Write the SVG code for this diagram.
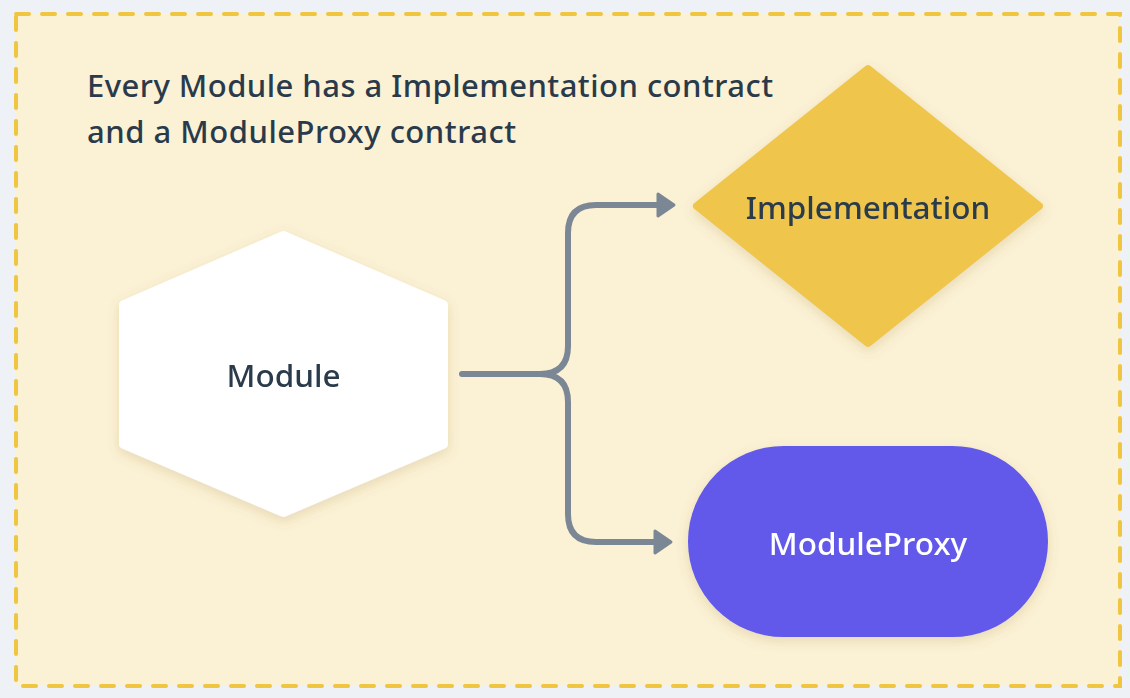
<svg xmlns="http://www.w3.org/2000/svg" width="1130" height="698" viewBox="0 0 1130 698">
  <style>
    .txt { font-family: "Noto Sans", "Open Sans", sans-serif; fill: #2a3a4b; font-weight: 500; }
    .node-label { font-size: 31.5px; text-anchor: middle; }
    .title { font-size: 31px; }
    .conn { fill: none; stroke: #7b8794; stroke-width: 6; stroke-linecap: round; stroke-linejoin: round; }
  </style>
  <defs>
    <filter id="shadow" x="-20%" y="-20%" width="140%" height="150%">
      <feDropShadow dx="0" dy="4" stdDeviation="6" flood-color="#8a6d1c" flood-opacity="0.18"/>
    </filter>
    <marker id="arrow" markerUnits="userSpaceOnUse" markerWidth="24" markerHeight="30" refX="2" refY="13" orient="auto" viewBox="0 0 24 26">
      <path d="M2,2 L18,13 L2,24 Z" fill="#7b8794" stroke="#7b8794" stroke-width="3" stroke-linejoin="round"/>
    </marker>
  </defs>
  <rect x="0" y="0" width="1130" height="698" fill="#eef2f6"/>
  <g id="frame">
    <rect x="16" y="14" width="1104" height="672" fill="#fbf1d5" stroke="#f0c540" stroke-width="4" stroke-dasharray="13 13" stroke-linecap="round"/>
  </g>
  <g id="title">
    <text class="txt title" x="87" y="97" textLength="686" lengthAdjust="spacing">Every Module has a Implementation contract</text>
    <text class="txt title" x="87" y="143" textLength="429" lengthAdjust="spacing">and a ModuleProxy contract</text>
  </g>
  <g id="connectors">
    <path class="conn" d="M462,374 H540 Q568,374 568,346 V233 Q568,205 596,205 H658" marker-end="url(#arrow)"/>
    <path class="conn" d="M540,374 Q568,374 568,402 V514 Q568,542 596,542 H655" marker-end="url(#arrow)"/>
  </g>
  <g id="node-module" filter="url(#shadow)">
    <polygon points="283.5,236 443,305 443,444 283.5,512 124,444 124,305" fill="#ffffff" stroke="#ffffff" stroke-width="10" stroke-linejoin="round"/>
    <text class="txt node-label" x="283.5" y="387">Module</text>
  </g>
  <g id="node-implementation" filter="url(#shadow)">
    <polygon points="868,69 1039,206 868,343 697,206" fill="#efc54b" stroke="#efc54b" stroke-width="8" stroke-linejoin="round"/>
    <text class="txt node-label" x="868" y="219">Implementation</text>
  </g>
  <g id="node-moduleproxy" filter="url(#shadow)">
    <rect x="688" y="446" width="360" height="191" rx="95.5" ry="95.5" fill="#6259ea"/>
    <text class="txt node-label" x="868" y="555" style="fill:#ffffff">ModuleProxy</text>
  </g>
</svg>
